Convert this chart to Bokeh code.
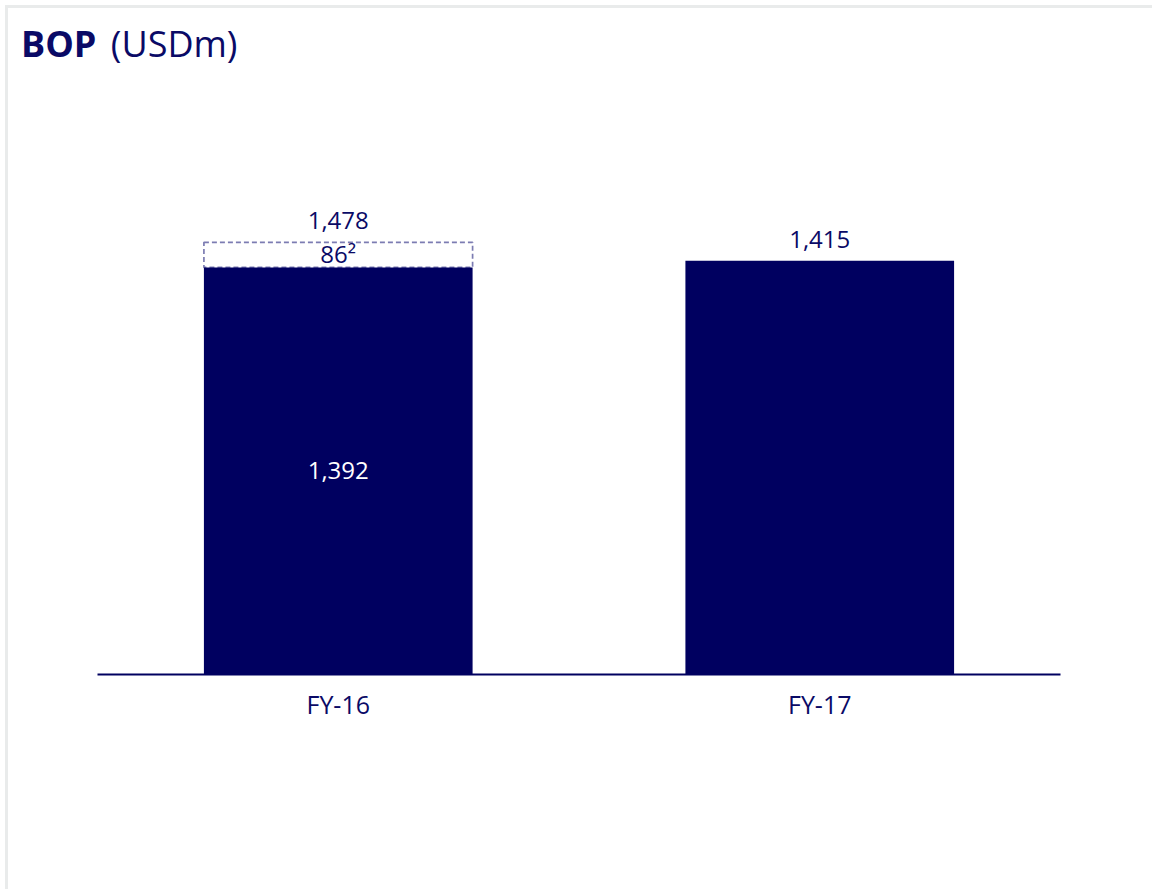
from bokeh.plotting import figure
from bokeh.models import FactorRange, Range1d, ColumnDataSource, LabelSet, Div
from bokeh.layouts import column
from bokeh.core.properties import value
from bokeh.embed import file_html
from bokeh.resources import INLINE

# ---- data ----
categories = ["FY-16", "FY-17"]
bop = [1392, 1415]
totals = [1478, 1415]
top_labels = ["1,478", "1,415"]
inner_labels = ["1,392", ""]
adj_category = ["FY-16"]
adj_base = [1392]
adj_top = [1478]
adj_labels = ["86\u00b2"]

NAVY = "#000060"
TEXT = "#0a0a66"
DASH = "#7c7cb2"
FONT = "Open Sans"
Y_MAX = 1963

title = Div(
    width=1144, height=92, margin=0,
    text=(f'<div style="font-family:\'{FONT}\';font-size:36px;line-height:49px;'
          f'color:{TEXT};padding-left:13px;padding-top:11px;white-space:nowrap;">'
          '<span style="font-weight:700">BOP</span>&nbsp;'
          '<span style="margin-left:5px">(USDm)</span></div>'),
)

p = figure(
    width=1144, height=789,
    x_range=FactorRange(factors=categories, range_padding=0),
    y_range=Range1d(0, Y_MAX),
    output_backend="svg", toolbar_location=None,
    min_border_left=89, min_border_right=92,
    min_border_top=0, min_border_bottom=215,
    margin=0,
)

src = ColumnDataSource(dict(
    cat=categories, bop=bop, half=[v / 2 for v in bop], total=totals,
    top_label=top_labels, inner_label=inner_labels,
))
adj_src = ColumnDataSource(dict(cat=adj_category, base=adj_base, top=adj_top, label=adj_labels))

# dashed add-on box (drawn first; bar covers its lower edge)
p.vbar(x="cat", bottom="base", top="top", width=0.558, source=adj_src,
       fill_color=None, line_color=DASH, line_width=1.7, line_dash="5 3")
p.vbar(x="cat", top="bop", width=0.558, source=src,
       fill_color=NAVY, line_color=None)

label_kw = dict(text_font=value(FONT), text_font_size=value("24px"),
                text_align="center", text_baseline="alphabetic")
p.add_layout(LabelSet(x="cat", y="total", text="top_label", source=src,
                      y_offset=13, text_color=TEXT, **label_kw))
p.add_layout(LabelSet(x="cat", y="half", text="inner_label", source=src,
                      y_offset=-8, text_color="white", **label_kw))
p.add_layout(LabelSet(x="cat", y="base", text="label", source=adj_src,
                      y_offset=4, text_color=TEXT, **label_kw))

ax = p.xaxis[0]
ax.axis_line_color = NAVY
ax.axis_line_width = 2
ax.major_tick_line_color = None
ax.minor_tick_line_color = None
ax.major_tick_out = 0
ax.major_tick_in = 0
ax.major_label_text_font = FONT
ax.major_label_text_font_size = "25px"
ax.major_label_text_color = TEXT
ax.major_label_standoff = 12

p.yaxis.visible = False
p.xgrid.visible = False
p.ygrid.visible = False
p.outline_line_color = None

layout = column(title, p, spacing=0, styles={
    "margin-left": "5px", "margin-top": "5px",
    "border-left": "3px solid #e9ebeb", "border-top": "3px solid #e9ebeb",
})

open("out.html", "w").write(file_html(layout, INLINE))
